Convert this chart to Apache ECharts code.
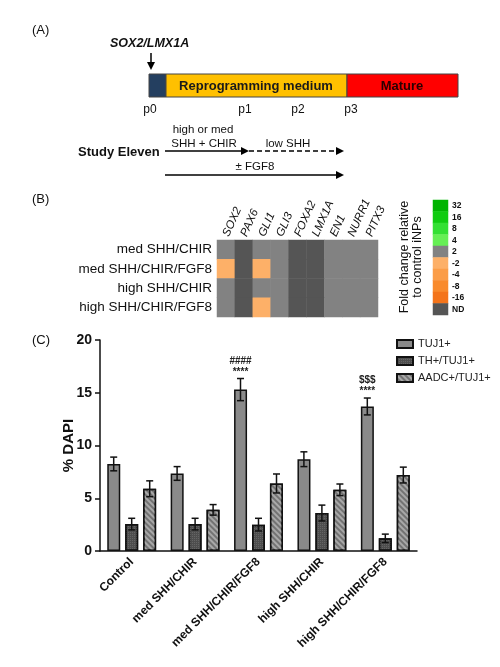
<!DOCTYPE html>
<html><head><meta charset="utf-8">
<script src="https://cdn.jsdelivr.net/npm/echarts@6/dist/echarts.min.js"></script>
<style>html,body{margin:0;padding:0;background:#fff}#c{width:500px;height:667px}</style>
</head><body><div id="c"></div>
<script>
// ---------- DATA ----------
const genes = ['SOX2','PAX6','GLI1','GLI3','FOXA2','LMX1A','EN1','NURR1','PITX3'];
const heatRows = ['med SHH/CHIR','med SHH/CHIR/FGF8','high SHH/CHIR','high SHH/CHIR/FGF8'];
const foldLevels = ['32','16','8','4','2','-2','-4','-8','-16','ND'];
// level index per gene for each row (4 = unchanged band, 5 = -2, 9 = ND)
const heatMedShhChir      = [4,9,4,4,9,9,4,4,4];
const heatMedShhChirFgf8  = [5,9,5,4,9,9,4,4,4];
const heatHighShhChir     = [4,9,4,4,9,9,4,4,4];
const heatHighShhChirFgf8 = [4,9,5,4,9,9,4,4,4];

const groups = ['Control','med SHH/CHIR','med SHH/CHIR/FGF8','high SHH/CHIR','high SHH/CHIR/FGF8'];
const seriesNames = ['TUJ1+','TH+/TUJ1+','AADC+/TUJ1+'];
const tuj1 = [8.25, 7.35, 15.3, 8.7, 13.7];
const tuj1Err = [0.65, 0.65, 1.05, 0.7, 0.8];
const th = [2.55, 2.55, 2.5, 3.6, 1.2];
const thErr = [0.55, 0.55, 0.6, 0.75, 0.4];
const aadc = [5.9, 3.9, 6.4, 5.8, 7.2];
const aadcErr = [0.75, 0.5, 0.9, 0.55, 0.75];
const sigMarks = ['', '', '####\n****', '', '$$$\n****'];
const yTicks = [0, 5, 10, 15, 20];

// ---------- BUILD ----------
const levelColors = ['#00b400','#10cc10','#33e033','#66ef55','#828282','#fdb068','#fb9d48','#f98a2c','#f4741a','#555555'];
const heatAll = [heatMedShhChir, heatMedShhChirFgf8, heatHighShhChir, heatHighShhChirFgf8];
const heatData = [];
heatAll.forEach((row, r) => row.forEach((v, g) => heatData.push([g, r, v])));
const legendData = foldLevels.map((l, i) => [0, i, i]);

const F = '"Liberation Sans", Arial, sans-serif';
const means = [tuj1, th, aadc];
const errs = [tuj1Err, thErr, aadcErr];
const errData = [];
means.forEach((arr, s) => arr.forEach((v, i) => errData.push([i, v, errs[s][i], s])));
const sigData = [];
sigMarks.forEach((t, i) => { if (t) sigData.push([i, tuj1[i] + tuj1Err[i], t]); });

const BW = 13, PITCH = 18;
const fills = ['#8a8a8a', '#4e4e4e', '#737373'];
const decals = [
  null,
  {symbol:'rect', symbolSize:1, dashArrayX:[1,1], dashArrayY:[1,1], color:'rgba(120,120,120,0.55)'},
  {symbol:'rect', symbolSize:1, dashArrayX:[1,0], dashArrayY:[1.5,2], rotation:Math.PI/4, color:'rgba(185,185,185,0.75)'}
];

const chart = echarts.init(document.getElementById('c'), null, {renderer:'canvas'});
const T = (x, y, text, o) => Object.assign({type:'text', x, y, style:Object.assign({text, font:'12px '+F, fill:'#111'}, o||{})});

const graphics = [
  T(32, 24, '(A)', {font:'13px '+F}),
  T(110, 37, 'SOX2/LMX1A', {font:'italic bold 12.5px '+F}),
  {type:'line', shape:{x1:151,y1:53,x2:151,y2:64}, style:{stroke:'#000', lineWidth:1.5}},
  {type:'polygon', shape:{points:[[147,62],[151,70],[155,62]]}, style:{fill:'#000'}},
  {type:'rect', shape:{x:149,y:74,width:17,height:23}, style:{fill:'#243f60', stroke:'#444', lineWidth:1}},
  {type:'rect', shape:{x:166,y:74,width:181,height:23}, style:{fill:'#ffc000', stroke:'#444', lineWidth:1}},
  {type:'rect', shape:{x:347,y:74,width:111,height:23}, style:{fill:'#ff0000', stroke:'#444', lineWidth:1}},
  T(256, 86, 'Reprogramming medium', {font:'bold 13px '+F, align:'center', verticalAlign:'middle', fill:'#1a1a1a'}),
  T(402, 86, 'Mature', {font:'bold 13px '+F, align:'center', verticalAlign:'middle', fill:'#2a0000'}),
  T(150, 110, 'p0', {align:'center', verticalAlign:'middle'}),
  T(245, 110, 'p1', {align:'center', verticalAlign:'middle'}),
  T(298, 110, 'p2', {align:'center', verticalAlign:'middle'}),
  T(351, 110, 'p3', {align:'center', verticalAlign:'middle'}),
  T(203, 130, 'high or med', {font:'11.5px '+F, align:'center', verticalAlign:'middle'}),
  T(204, 144, 'SHH + CHIR', {font:'11.5px '+F, align:'center', verticalAlign:'middle'}),
  T(288, 144, 'low SHH', {font:'11.5px '+F, align:'center', verticalAlign:'middle'}),
  T(78, 152, 'Study Eleven', {font:'bold 13px '+F, verticalAlign:'middle'}),
  {type:'line', shape:{x1:165,y1:151,x2:243,y2:151}, style:{stroke:'#000', lineWidth:1.5}},
  {type:'polygon', shape:{points:[[241,147],[249,151],[241,155]]}, style:{fill:'#000'}},
  {type:'line', shape:{x1:249,y1:151,x2:338,y2:151}, style:{stroke:'#000', lineWidth:1.5, lineDash:[5,3]}},
  {type:'polygon', shape:{points:[[336,147],[344,151],[336,155]]}, style:{fill:'#000'}},
  T(255, 167, '± FGF8', {font:'11.5px '+F, align:'center', verticalAlign:'middle'}),
  {type:'line', shape:{x1:165,y1:175,x2:338,y2:175}, style:{stroke:'#000', lineWidth:1.5}},
  {type:'polygon', shape:{points:[[336,171],[344,175],[336,179]]}, style:{fill:'#000'}},
  T(32, 193, '(B)', {font:'13px '+F}),
  {type:'text', x:411, y:257, rotation:Math.PI/2, style:{text:'Fold change relative\nto control iNPs', font:'12.5px '+F, fill:'#111', align:'center', verticalAlign:'middle', lineHeight:13}},
  T(32, 334, '(C)', {font:'13px '+F})
];

chart.setOption({
  animation:false,
  backgroundColor:'#fff',
  textStyle:{fontFamily:F},
  graphic:graphics,
  grid:[
    {left:217, top:240, width:161, height:77},
    {left:433, top:200, width:15, height:115},
    {left:100, top:340, width:317, height:211}
  ],
  xAxis:[
    {gridIndex:0, type:'category', data:genes, position:'top', axisLine:{show:false}, axisTick:{show:false},
     axisLabel:{rotate:-66, fontStyle:'italic', fontSize:11.5, color:'#111', margin:4, interval:0}},
    {gridIndex:1, type:'category', data:[''], show:false},
    {gridIndex:2, type:'category', data:groups,
     axisLine:{lineStyle:{color:'#111', width:1.5}},
     axisTick:{alignWithLabel:true, length:5, lineStyle:{color:'#111', width:1.5}},
     axisLabel:{rotate:45, fontWeight:'bold', fontSize:12, color:'#111', margin:9, interval:0}}
  ],
  yAxis:[
    {gridIndex:0, type:'category', data:heatRows, inverse:true, axisLine:{show:false}, axisTick:{show:false},
     axisLabel:{fontSize:13.5, color:'#111', margin:5}},
    {gridIndex:1, type:'category', data:foldLevels, inverse:true, position:'right', axisLine:{show:false}, axisTick:{show:false},
     axisLabel:{fontSize:8.5, fontWeight:'bold', color:'#111', margin:4, interval:0}},
    {gridIndex:2, type:'value', min:0, max:20, interval:5,
     name:'% DAPI', nameLocation:'middle', nameGap:24, nameRotate:90, nameMoveOverlap:false,
     nameTextStyle:{fontSize:15, fontWeight:'bold', color:'#111'},
     axisLine:{show:true, lineStyle:{color:'#111', width:1.5}},
     axisTick:{show:true, length:5, lineStyle:{color:'#111', width:1.5}},
     splitLine:{show:false},
     axisLabel:{fontSize:14, fontWeight:'bold', color:'#111', margin:8,
       formatter:v => yTicks.indexOf(v) >= 0 ? String(v) : ''}}
  ],
  visualMap:{type:'piecewise', show:false, seriesIndex:[0,1], dimension:2,
    pieces: levelColors.map((c, i) => ({value:i, color:c}))},
  legend:{orient:'vertical', left:396, top:337, padding:0, itemWidth:16, itemHeight:8, itemGap:3,
    textStyle:{fontSize:11, color:'#222', lineHeight:14}, data:seriesNames, icon:'rect'},
  series:[
    {type:'heatmap', xAxisIndex:0, yAxisIndex:0, data:heatData, itemStyle:{borderWidth:0}},
    {type:'heatmap', xAxisIndex:1, yAxisIndex:1, data:legendData, itemStyle:{borderWidth:0}},
    ...seriesNames.map((n, s) => ({
      type:'bar', name:n, xAxisIndex:2, yAxisIndex:2, data:means[s], barWidth:BW, barGap:'38%',
      itemStyle:{color:fills[s], borderColor:'#111', borderWidth:1.5, decal:decals[s] || undefined}
    })),
    {type:'custom', xAxisIndex:2, yAxisIndex:2, data:errData, z:5,
     renderItem:(params, api) => {
       const i = api.value(0), m = api.value(1), e = api.value(2), s = api.value(3);
       const x = api.coord([i, m])[0] + (s - 1) * PITCH;
       const yt = api.coord([i, m + e])[1], yb = api.coord([i, m - e])[1];
       const st = {stroke:'#111', lineWidth:1.5};
       return {type:'group', children:[
         {type:'line', shape:{x1:x, y1:yt, x2:x, y2:yb}, style:st},
         {type:'line', shape:{x1:x-3.5, y1:yt, x2:x+3.5, y2:yt}, style:st},
         {type:'line', shape:{x1:x-3.5, y1:yb, x2:x+3.5, y2:yb}, style:st}
       ]};
     }},
    {type:'custom', xAxisIndex:2, yAxisIndex:2, data:sigData, z:6,
     renderItem:(params, api) => {
       const i = api.value(0), top = api.value(1);
       const p = api.coord([i, top]);
       const txt = sigData[params.dataIndex][2];
       return {type:'text', x:p[0] - PITCH, y:p[1] - 1,
         style:{text:txt, font:'bold 10px '+F, fill:'#222', align:'center', verticalAlign:'bottom', lineHeight:11}};
     }}
  ]
});
</script></body></html>
